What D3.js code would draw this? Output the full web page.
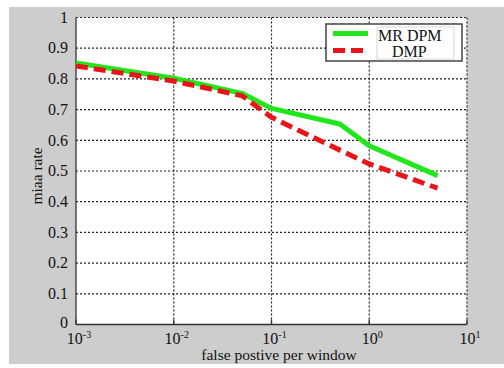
<!DOCTYPE html>
<html><head><meta charset="utf-8">
<script src="https://cdn.jsdelivr.net/npm/d3@7"></script>
<style>body{margin:0;background:#fff;}svg{display:block;}</style>
</head><body>
<script>
const xValues = [0.001, 0.01, 0.05, 0.1, 0.5, 1, 5];
const mrDpm = [0.852, 0.802, 0.753, 0.704, 0.653, 0.582, 0.485];
const dmp = [0.842, 0.793, 0.745, 0.675, 0.568, 0.523, 0.444];
const seriesNames = ["MR DPM", "DMP"];
const xTicks = [-3, -2, -1, 0, 1];
const yTicks = [0, 0.1, 0.2, 0.3, 0.4, 0.5, 0.6, 0.7, 0.8, 0.9, 1];

const W = 504, H = 368;
const svg = d3.select("body").append("svg").attr("width", W).attr("height", H);
svg.append("rect").attr("x", 9).attr("y", 7).attr("width", 495).attr("height", 357).attr("fill", "#cdcdcd");

const L = 76, R = 467, T = 17.5, B = 324.5;
const x = d3.scaleLog().domain([1e-3, 10]).range([L, R]);
const y = d3.scaleLinear().domain([0, 1]).range([B, T]);
const font = "'Liberation Serif', 'Times New Roman', serif";

svg.append("rect").attr("x", L).attr("y", T).attr("width", R - L).attr("height", B - T).attr("fill", "#fff");

// grid
const g = svg.append("g");
g.selectAll(".vg").data(xTicks.slice(1)).enter().append("line")
  .attr("x1", d => x(Math.pow(10, d))).attr("x2", d => x(Math.pow(10, d)))
  .attr("y1", T).attr("y2", B).attr("stroke", "#222").attr("stroke-width", 1.2).attr("stroke-dasharray", "2,2");
g.selectAll(".hg").data(yTicks.slice(1)).enter().append("line")
  .attr("x1", L).attr("x2", R).attr("y1", d => y(d)).attr("y2", d => y(d))
  .attr("stroke", "#222").attr("stroke-width", 1.2).attr("stroke-dasharray", "2,2");

// axes lines
svg.append("line").attr("x1", L).attr("x2", L).attr("y1", T).attr("y2", B).attr("stroke", "#333").attr("stroke-width", 1.3);
svg.append("line").attr("x1", L).attr("x2", R).attr("y1", B).attr("y2", B).attr("stroke", "#333").attr("stroke-width", 1.3);
svg.selectAll(".xt").data(xTicks).enter().append("line")
  .attr("x1", d => x(Math.pow(10, d))).attr("x2", d => x(Math.pow(10, d)))
  .attr("y1", B).attr("y2", B - 5).attr("stroke", "#333").attr("stroke-width", 1.3);

// y tick labels
svg.selectAll(".yl").data(yTicks).enter().append("text")
  .attr("x", 68).attr("y", d => y(d) - (d === 0 ? 2 : 0)).attr("dy", "0.33em")
  .attr("text-anchor", "end").attr("font-family", font).attr("font-size", 16).attr("fill", "#111")
  .text(d => d === 0 ? "0" : d === 1 ? "1" : d3.format(".1f")(d));

// x tick labels
const xl = svg.selectAll(".xl").data(xTicks).enter().append("text")
  .attr("x", d => x(Math.pow(10, d)) + 3).attr("y", 344)
  .attr("text-anchor", "middle").attr("font-family", font).attr("font-size", 16).attr("fill", "#111");
xl.append("tspan").text("10");
xl.append("tspan").attr("dy", -6).attr("font-size", 10).text(d => d);

// axis titles
svg.append("text").attr("x", 279).attr("y", 360).attr("text-anchor", "middle")
  .attr("font-family", font).attr("font-size", 15.5).attr("fill", "#111").text("false postive per window");
svg.append("text").attr("transform", "translate(42,176) rotate(-90)").attr("text-anchor", "middle")
  .attr("font-family", font).attr("font-size", 15.5).attr("fill", "#111").text("miaa rate");

// lines
const line = d3.line().x((d, i) => x(xValues[i])).y(d => y(d));
svg.append("path").datum(mrDpm).attr("d", line).attr("fill", "none")
  .attr("stroke", "#22e61c").attr("stroke-width", 5).attr("stroke-linejoin", "round");
svg.append("path").datum(dmp).attr("d", line).attr("fill", "none")
  .attr("stroke", "#e8141a").attr("stroke-width", 5).attr("stroke-dasharray", "12,6");

// legend
const lg = svg.append("g");
lg.append("rect").attr("x", 326).attr("y", 24).attr("width", 136).attr("height", 37)
  .attr("fill", "#fff").attr("stroke", "#444").attr("stroke-width", 1.5);
lg.append("rect").attr("x", 377).attr("y", 27).attr("width", 77).attr("height", 32)
  .attr("fill", "#fff").attr("stroke", "#ccc").attr("stroke-width", 0.8);
lg.append("line").attr("x1", 333).attr("x2", 368).attr("y1", 33.5).attr("y2", 33.5)
  .attr("stroke", "#22e61c").attr("stroke-width", 5);
lg.append("line").attr("x1", 333).attr("x2", 368).attr("y1", 50.5).attr("y2", 50.5)
  .attr("stroke", "#e8141a").attr("stroke-width", 5).attr("stroke-dasharray", "12,6");
lg.append("text").attr("x", 378).attr("y", 41).attr("font-family", font).attr("font-size", 16).attr("fill", "#111").text(seriesNames[0]);
lg.append("text").attr("x", 392).attr("y", 57).attr("font-family", font).attr("font-size", 16).attr("fill", "#111").text(seriesNames[1]);
</script>
</body></html>
